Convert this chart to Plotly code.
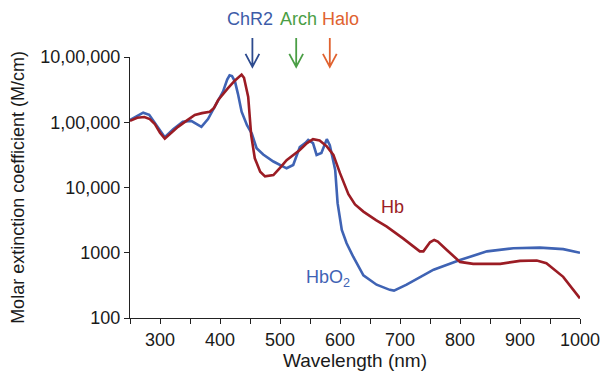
import plotly.graph_objects as go

# HbO2 (oxy-hemoglobin) molar extinction coefficient
hbo2_nm = [250, 262, 272, 282, 294, 308, 322, 338, 352, 362, 369, 380, 391, 405, 412, 416,
           420, 425, 430, 436, 445, 453, 461, 472, 489, 503, 511, 522, 533, 542, 547, 555,
           561, 569, 578, 583, 589, 592, 596, 603, 611, 622, 639, 661, 683, 690, 711, 739,
           756, 800, 845, 889, 933, 972, 1000]
hbo2_val = [108000, 125000, 140000, 130000, 92000, 59000, 78000, 102000, 105000, 93000, 85000,
            112000, 174000, 295000, 450000, 525000, 510000, 420000, 270000, 145000, 90000,
            67000, 40000, 32000, 25000, 21500, 19700, 22100, 41700, 48000, 53700, 48000,
            31600, 33900, 55000, 44700, 26300, 18600, 5750, 2240, 1400, 870, 450, 324, 270,
            263, 324, 457, 550, 776, 1050, 1175, 1200, 1135, 1000]

# Hb (deoxy-hemoglobin)
hb_nm = [250, 262, 274, 283, 291, 300, 308, 318, 330, 345, 358, 370, 383, 390, 397, 413,
         425, 436, 440, 447, 452, 458, 467, 475, 489, 500, 511, 533, 545, 555, 566, 578,
         589, 600, 614, 625, 639, 660, 678, 705, 733, 739, 750, 757, 763, 778, 800, 822,
         867, 900, 928, 944, 972, 1000]
hb_val = [105000, 117000, 120000, 112000, 95000, 69000, 56000, 68000, 85000, 107000, 129000,
          138000, 145000, 166000, 219000, 331000, 437000, 537000, 480000, 245000, 63000,
          28000, 17400, 14800, 15500, 20000, 26300, 37600, 47900, 55000, 52500, 42700,
          31600, 16600, 7900, 5500, 4270, 3160, 2510, 1660, 1050, 1050, 1445, 1570, 1480,
          1100, 724, 676, 676, 750, 760, 690, 427, 200]

# Opsin markers (wavelength, label, colour)
opsin_nm = [454, 527, 583]
opsin_label_nm = [450, 530, 600]
opsin_names = ["ChR2", "Arch", "Halo"]
opsin_text_colors = ["#3d5ca8", "#4a9e45", "#e0622f"]
opsin_arrow_colors = ["#2c4a8e", "#4a9e45", "#e0622f"]

y_tickvals = [100, 1000, 10000, 100000, 1000000]
y_ticktext = ["100", "1000", "10,000", "1,00,000", "10,00,000"]
x_tickvals = [300, 400, 500, 600, 700, 800, 900, 1000]
x_ticktext = ["300", "400", "500", "600", "700", "800", "900", "1000"]
x_minor_tickvals = [250, 350, 450, 550, 650, 750, 850, 950]

BLUE = "#3f63b4"
RED = "#9b1c24"
FONT = "Liberation Sans, Arial, sans-serif"

fig = go.Figure()
fig.add_trace(go.Scatter(x=hbo2_nm, y=hbo2_val, mode="lines", name="HbO2",
                         line=dict(color=BLUE, width=2.6)))
fig.add_trace(go.Scatter(x=hb_nm, y=hb_val, mode="lines", name="Hb",
                         line=dict(color=RED, width=2.6)))

# arrow geometry (paper units for y, nm for x half-width of head)
y_tip = 0.962
y_top = 1.073
head_dy = 0.05
head_dx = 11.5

shapes = []
annotations = []
for nm, lnm, name, tc, ac in zip(opsin_nm, opsin_label_nm, opsin_names,
                                 opsin_text_colors, opsin_arrow_colors):
    path = (f"M{nm},{y_top} L{nm},{y_tip} "
            f"M{nm - head_dx},{y_tip + head_dy} L{nm},{y_tip} L{nm + head_dx},{y_tip + head_dy}")
    shapes.append(dict(type="path", xref="x", yref="paper", path=path,
                       line=dict(color=ac, width=1.8)))
    annotations.append(dict(x=lnm, y=1.146, xref="x", yref="paper", text=name,
                            showarrow=False, font=dict(size=18, color=tc, family=FONT),
                            xanchor="center", yanchor="middle"))

annotations.append(dict(x=688, y=3.70, xref="x", yref="y", text="Hb", showarrow=False,
                        font=dict(size=18, color=RED, family=FONT)))
annotations.append(dict(x=580, y=2.60, xref="x", yref="y", text="HbO<sub>2</sub>",
                        showarrow=False, font=dict(size=18, color=BLUE, family=FONT)))

fig.update_layout(
    width=600, height=377,
    margin=dict(l=130, r=20, t=57, b=59),
    paper_bgcolor="white", plot_bgcolor="white",
    showlegend=False,
    font=dict(family=FONT, size=18, color="#1a1a1a"),
    annotations=annotations,
    shapes=shapes,
)
fig.update_xaxes(range=[250, 1000], tickmode="array", tickvals=x_tickvals, ticktext=x_ticktext,
                 automargin=False, ticklabeloverflow="allow",
                 minor=dict(tickmode="array", tickvals=x_minor_tickvals, ticks="outside",
                            ticklen=5, tickcolor="#222", tickwidth=1.3, showgrid=False),
                 showgrid=False, zeroline=False, showline=True, linecolor="#222",
                 linewidth=1.3, ticks="outside", ticklen=5, tickcolor="#222", tickwidth=1.3,
                 tickfont=dict(size=18),
                 title=dict(text="Wavelength (nm)", font=dict(size=19), standoff=4))
fig.update_yaxes(type="log", range=[2, 6], tickvals=y_tickvals, ticktext=y_ticktext,
                 automargin=False, ticklabeloverflow="allow",
                 showgrid=False, zeroline=False, showline=True, linecolor="#222",
                 linewidth=1.3, ticks="outside", ticklen=5, tickcolor="#222", tickwidth=1.3,
                 tickfont=dict(size=18),
                 title=dict(text="Molar extinction coefficient (M/cm)", font=dict(size=18),
                            standoff=10))

fig.write_html("out.html")
